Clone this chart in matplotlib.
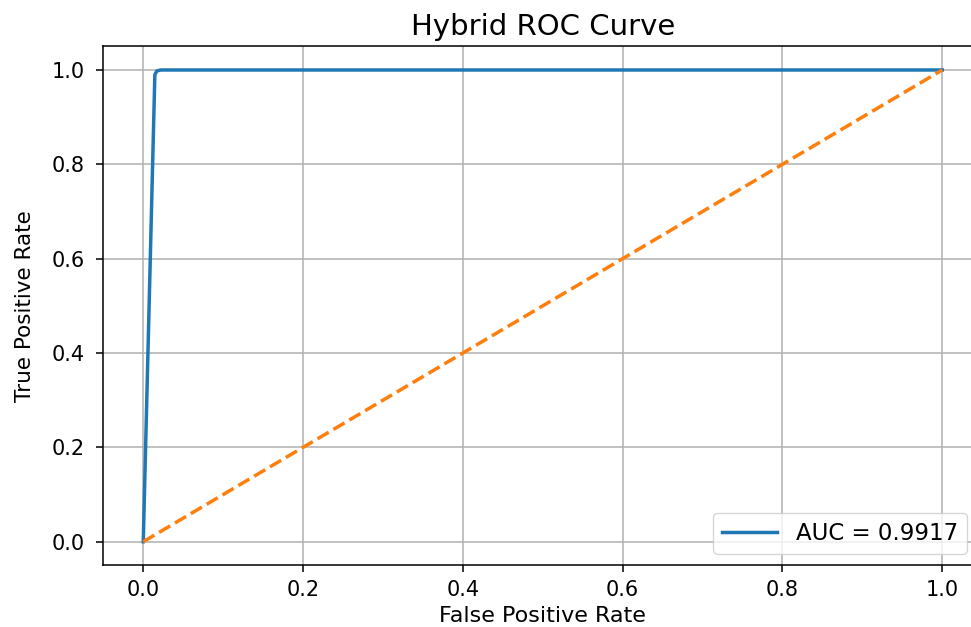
import matplotlib
matplotlib.use('Agg')
import matplotlib.pyplot as plt

# ROC points
fpr = [0.0, 0.0145, 0.017, 0.022, 1.0]
tpr = [0.0, 0.99, 0.998, 1.0, 1.0]
diag = [0.0, 1.0]
auc_label = 'AUC = 0.9917'

plt.rcParams['font.family'] = 'DejaVu Sans'

fig = plt.figure(figsize=(9.71, 6.27), dpi=100)
ax = fig.add_axes([0.1064, 0.0984, 1.0115 - 0.1064, 0.926 - 0.0984])

ax.plot(fpr, tpr, color='#1f77b4', lw=2.5, label=auc_label)
ax.plot(diag, diag, color='#ff7f0e', lw=2.5, linestyle='--')

ax.set_xticks([0.0, 0.2, 0.4, 0.6, 0.8, 1.0])
ax.set_yticks([0.0, 0.2, 0.4, 0.6, 0.8, 1.0])
ax.tick_params(labelsize=15, length=5.3, width=1.1)
ax.tick_params(axis='x', pad=5.5)
ax.tick_params(axis='y', pad=8)
for s in ax.spines.values():
    s.set_linewidth(1.1)

ax.set_xlabel('False Positive Rate', fontsize=16)
ax.set_ylabel('True Positive Rate', fontsize=15.5, labelpad=12)
ax.set_title('Hybrid ROC Curve', fontsize=21, pad=8)
ax.legend(loc='lower right', fontsize=16.5, handlelength=2.4,
          bbox_to_anchor=(967 / 971, (627 - 554) / 627),
          bbox_transform=fig.transFigure, borderaxespad=0)
ax.grid(True, lw=1.1)

fig.savefig('out.png', dpi=100)
